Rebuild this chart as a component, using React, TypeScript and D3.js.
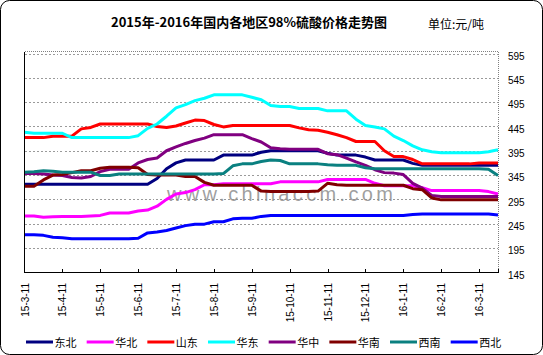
import React from 'react';
import * as d3 from 'd3';

const W = 543;
const H = 355;

const xLabels = ['15-3-11', '15-4-11', '15-5-11', '15-6-11', '15-7-11', '15-8-11', '15-9-11', '15-10-11', '15-11-11', '15-12-11', '16-1-11', '16-2-11', '16-3-11'];
const yTicks = [145, 195, 245, 295, 345, 395, 445, 495, 545, 595];
const regions = ['东北', '华北', '山东', '华东', '华中', '华南', '西南', '西北'];
const colors = ['#000080', '#ff00ff', '#ff0000', '#00ffff', '#800080', '#800000', '#0a8080', '#0000ff'];

// weekly samples (51 points)
const dongbei = [326, 326, 326, 326, 326, 326, 326, 326, 326, 326, 326, 326, 326, 326, 338, 358, 370, 376, 376, 376, 376, 386, 386, 386, 386, 392, 395, 395, 395, 395, 395, 395, 390, 386, 386, 386, 382, 376, 376, 376, 376, 369, 365, 365, 365, 365, 365, 365, 365, 365, 365];
const huabei = [261, 261, 258, 259, 260, 260, 260, 261, 262, 267, 267, 267, 271, 273, 281, 295, 306, 309, 315, 325, 325, 327, 327, 327, 327, 327, 327, 331, 331, 331, 331, 331, 336, 336, 336, 336, 336, 328, 323, 323, 323, 323, 319, 313, 313, 313, 313, 313, 313, 311, 306];
const shandong = [422, 422, 422, 425, 425, 425, 440, 443, 450, 450, 450, 450, 450, 450, 445, 443, 446, 452, 458, 457, 449, 444, 447, 447, 447, 447, 447, 447, 447, 442, 438, 437, 433, 428, 422, 414, 414, 414, 395, 383, 383, 377, 368, 368, 368, 368, 368, 368, 370, 370, 370];
const huadong = [433, 431, 431, 431, 431, 422, 422, 422, 422, 422, 422, 422, 426, 441, 450, 466, 483, 490, 498, 503, 510, 510, 510, 510, 505, 500, 488, 486, 486, 482, 482, 482, 477, 477, 477, 460, 447, 444, 440, 425, 416, 405, 397, 393, 391, 391, 391, 391, 391, 393, 397];
const huazhong = [348, 348, 347, 345, 344, 340, 339, 342, 352, 357, 357, 357, 370, 377, 380, 395, 403, 410, 416, 421, 428, 428, 428, 428, 420, 413, 401, 399, 398, 398, 398, 398, 389, 387, 380, 372, 365, 356, 350, 349, 346, 328, 318, 303, 301, 301, 301, 301, 301, 301, 301];
const huanan = [322, 322, 335, 345, 346, 350, 354, 354, 359, 361, 361, 361, 360, 346, 345, 345, 345, 342, 342, 330, 324, 324, 324, 324, 324, 312, 311, 311, 311, 311, 311, 312, 328, 325, 324, 324, 324, 324, 324, 324, 324, 317, 315, 298, 294, 294, 294, 294, 294, 294, 294];
const xinan = [351, 352, 354, 353, 351, 351, 351, 351, 344, 344, 347, 347, 347, 347, 347, 347, 347, 347, 347, 347, 347, 348, 364, 368, 368, 373, 376, 375, 368, 368, 368, 368, 366, 365, 365, 365, 360, 358, 358, 358, 358, 358, 358, 358, 358, 358, 358, 358, 358, 357, 344];
const xibei = [222, 222, 221, 217, 216, 214, 214, 214, 214, 214, 214, 214, 215, 226, 228, 231, 236, 241, 244, 244, 249, 249, 255, 256, 256, 260, 262, 262, 262, 262, 262, 262, 262, 262, 262, 262, 262, 262, 262, 262, 262, 264, 265, 265, 265, 265, 265, 265, 265, 265, 263];

const series = [dongbei, huabei, shandong, huadong, huazhong, huanan, xinan, xibei];

const PL = 24.5, PR = 498, PT = 51.5, PB = 272.5;

export default function App() {
  const x = d3.scaleLinear().domain([0, 50]).range([PL, PR]);
  const y = d3.scaleLinear().domain([145, 595]).range([272.3, 53.5]);
  const line = d3.line<number>().x((_, i) => x(i)).y((d) => y(d));
  const tickIdx = xLabels.map((_, k) => k * 4);
  const cjk = '"Noto Sans CJK SC", "Noto Sans", sans-serif';
  const num = '"Liberation Sans", Arial, sans-serif';

  return (
    <svg width={W} height={H} style={{ position: 'absolute', left: 0, top: 0 }}>
      <rect x={0.5} y={0.5} width={W - 1} height={H - 1} rx={9} ry={9} fill="#fff" stroke="#000" />
      <text x={249} y={27} textAnchor="middle" fontFamily={cjk} fontWeight="bold" fontSize={13}>
        2015年-2016年国内各地区98%硫酸价格走势图
      </text>
      <text x={428} y={29} fontFamily={cjk} fontSize={12}>单位:元/吨</text>

      {/* grid */}
      {yTicks.filter((v) => v > 145).map((v) => (
        <line key={v} x1={PL} x2={PR} y1={Math.round(y(v)) + 0.5} y2={Math.round(y(v)) + 0.5}
          stroke="#9a9a9a" strokeDasharray="2,2" shapeRendering="crispEdges" />
      ))}
      <line x1={PL} x2={PR} y1={PT} y2={PT} stroke="#808080" strokeDasharray="1,1" shapeRendering="crispEdges" />
      <line x1={PR} x2={PR} y1={PT} y2={PB} stroke="#808080" strokeDasharray="1,1" shapeRendering="crispEdges" />

      {/* watermark */}
      <text x={167} y={201} fontFamily={num} fontSize={20} fill="#8e8e8e" fillOpacity={0.85}
        textLength={226} lengthAdjust="spacing">www.chinaccm.com</text>

      {/* series */}
      {series.map((s, k) => (
        <path key={k} d={line(s) || ''} fill="none" stroke={colors[k]} strokeWidth={3} strokeLinejoin="round" />
      ))}

      {/* axes */}
      <line x1={PL} x2={PL} y1={PT} y2={PB} stroke="#000" shapeRendering="crispEdges" />
      <line x1={PL} x2={PR} y1={PB} y2={PB} stroke="#000" shapeRendering="crispEdges" />
      {[...tickIdx.slice(1), 50].map((i) => (
        <line key={i} x1={Math.round(x(i)) + 0.5} x2={Math.round(x(i)) + 0.5} y1={PB} y2={PB - 4}
          stroke="#000" shapeRendering="crispEdges" />
      ))}
      {xLabels.map((lab, k) => (
        <text key={lab} transform={`translate(${x(tickIdx[k]) + 0.5},283) rotate(-90)`} textAnchor="end"
          dy="0.35em" fontFamily={num} fontSize={10}>{lab}</text>
      ))}
      {yTicks.map((v) => (
        <text key={v} x={508} y={y(v) + 6.3} fontFamily={num} fontSize={10}>{v}</text>
      ))}

      {/* legend */}
      {regions.map((r, k) => {
        const x0 = 26 + k * 60.67;
        return (
          <g key={r}>
            <line x1={x0} x2={x0 + 27} y1={342} y2={342} stroke={colors[k]} strokeWidth={3} />
            <text x={x0 + 28.5} y={346.5} fontFamily={cjk} fontSize={11}>{r}</text>
          </g>
        );
      })}
    </svg>
  );
}
